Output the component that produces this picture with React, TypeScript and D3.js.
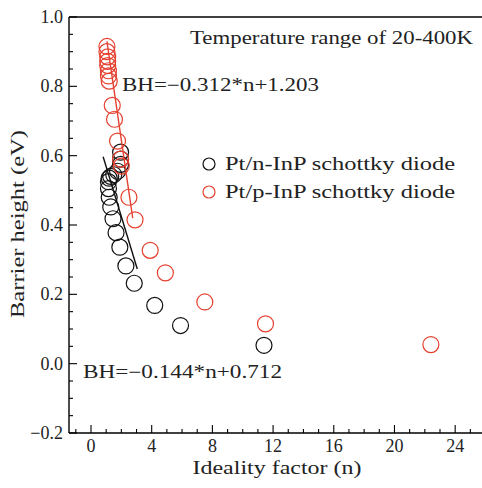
import React from 'react';
import * as d3 from 'd3';

// Pt/n-InP (black) ideality factor vs barrier height
const nInP_n = [11.4, 5.9, 4.2, 2.85, 2.3, 1.9, 1.65, 1.45, 1.3, 1.2, 1.15, 1.15, 1.2, 1.3, 1.5, 1.75, 1.95, 1.95, 1.95];
const nInP_bh = [0.053, 0.11, 0.168, 0.232, 0.282, 0.336, 0.378, 0.418, 0.452, 0.48, 0.505, 0.525, 0.535, 0.54, 0.545, 0.555, 0.575, 0.59, 0.61];

// Pt/p-InP (red)
const pInP_n = [22.4, 11.5, 7.5, 4.9, 3.9, 2.9, 2.5, 2.0, 1.95, 1.75, 1.55, 1.4, 1.2, 1.15, 1.15, 1.1, 1.1, 1.1, 1.05, 1.05];
const pInP_bh = [0.055, 0.115, 0.178, 0.262, 0.327, 0.415, 0.48, 0.57, 0.59, 0.642, 0.705, 0.745, 0.815, 0.83, 0.845, 0.86, 0.872, 0.885, 0.9, 0.915];

// fitted lines, endpoints as drawn
const fitN_n = [0.8, 3.05];
const fitN_bh = [0.597, 0.273];
const fitP_n = [1.05, 2.75];
const fitP_bh = [0.93, 0.42];

const xMajor = [0, 4, 8, 12, 16, 20, 24];
const yMajor = [-0.2, 0, 0.2, 0.4, 0.6, 0.8, 1.0];

const legendLabels = ['Pt/n-InP schottky diode', 'Pt/p-InP schottky diode'];
const RED = '#e5402f';
const BLACK = '#111';
const INK = '#222';

export default function App() {
  const W = 482;
  const H = 488;
  const left = 69, right = 484, top = 17, bottom = 433;

  const x = d3.scaleLinear().domain([-1.45, 25.9]).range([left, right]);
  const y = d3.scaleLinear().domain([-0.2, 1.0]).range([bottom, top]);

  const xMinor = d3.range(-1, 26, 1).filter((v) => v % 4 !== 0);
  const yMinor = d3.range(0, 25).map((i) => -0.2 + i * 0.05).filter((_, i) => i % 4 !== 0);

  const seg = (ns: number[], bs: number[]) =>
    d3.line<[number, number]>().x((d) => x(d[0])).y((d) => y(d[1]))(ns.map((n, i) => [n, bs[i]]) as [number, number][]) || '';

  const fmt = (v: number) => (v < 0 ? '\u2212' : '') + Math.abs(v).toFixed(1);

  const txt = { fill: INK, lengthAdjust: 'spacingAndGlyphs' as const };

  return (
    <svg
      width={W}
      height={H}
      style={{ position: 'absolute', left: 0, top: 0, background: '#fff', fontFamily: "'Liberation Serif', 'DejaVu Serif', serif" }}
    >
      <defs>
        <clipPath id="plot">
          <rect x={left} y={top} width={right - left} height={bottom - top} />
        </clipPath>
      </defs>

      <g clipPath="url(#plot)">
        {nInP_n.map((n, i) => (
          <circle key={'b' + i} cx={x(n)} cy={y(nInP_bh[i])} r={8} fill="none" stroke={BLACK} strokeWidth={1.2} />
        ))}
        {pInP_n.map((n, i) => (
          <circle key={'r' + i} cx={x(n)} cy={y(pInP_bh[i])} r={8} fill="none" stroke={RED} strokeWidth={1.2} />
        ))}
        <path d={seg(fitN_n, fitN_bh)} stroke={BLACK} strokeWidth={1.4} fill="none" />
        <path d={seg(fitP_n, fitP_bh)} stroke={RED} strokeWidth={1.4} fill="none" />
      </g>

      {/* frame */}
      <line x1={left} x2={left} y1={top} y2={bottom} stroke="#000" strokeWidth={1.4} />
      <line x1={left} x2={right} y1={bottom} y2={bottom} stroke="#000" strokeWidth={1.4} />
      <line x1={left} x2={right} y1={top} y2={top} stroke="#000" strokeWidth={1.4} />

      {/* x ticks */}
      {xMajor.map((v) => (
        <g key={'xm' + v}>
          <line x1={x(v)} x2={x(v)} y1={bottom} y2={bottom - 8} stroke="#000" strokeWidth={1.1} />
          <text x={x(v)} y={452} textAnchor="middle" fontSize={18} {...txt}>
            {v}
          </text>
        </g>
      ))}
      {xMinor.map((v) => (
        <line key={'xn' + v} x1={x(v)} x2={x(v)} y1={bottom} y2={bottom - 4} stroke="#000" strokeWidth={1.1} />
      ))}

      {/* y ticks */}
      {yMajor.map((v) => (
        <g key={'ym' + v}>
          <line x1={left} x2={left + 8} y1={y(v)} y2={y(v)} stroke="#000" strokeWidth={1.1} />
          <text x={63} y={y(v) + 6} textAnchor="end" fontSize={18} {...txt}>
            {fmt(v)}
          </text>
        </g>
      ))}
      {yMinor.map((v, i) => (
        <line key={'yn' + i} x1={left} x2={left + 4} y1={y(v)} y2={y(v)} stroke="#000" strokeWidth={1.1} />
      ))}

      {/* axis titles */}
      <text x={277} y={474} textAnchor="middle" fontSize={18} textLength={169} {...txt}>
        Ideality factor (n)
      </text>
      <text transform={`translate(24,224) rotate(-90)`} textAnchor="middle" fontSize={18} textLength={188} {...txt}>
        Barrier height (eV)
      </text>

      {/* annotations */}
      <text x={190} y={44} fontSize={18} textLength={283} {...txt}>
        Temperature range of 20-400K
      </text>
      <text x={122} y={91} fontSize={18} textLength={197} {...txt}>
        BH={'\u2212'}0.312*n+1.203
      </text>
      <text x={83} y={378} fontSize={18} textLength={199} {...txt}>
        BH={'\u2212'}0.144*n+0.712
      </text>

      {/* legend */}
      {legendLabels.map((t, i) => (
        <g key={t}>
          <circle cx={209} cy={164 + i * 28} r={6} fill="none" stroke={i === 0 ? BLACK : RED} strokeWidth={1.2} />
          <text x={225} y={170 + i * 28} fontSize={18} textLength={230} {...txt}>
            {t}
          </text>
        </g>
      ))}
    </svg>
  );
}
